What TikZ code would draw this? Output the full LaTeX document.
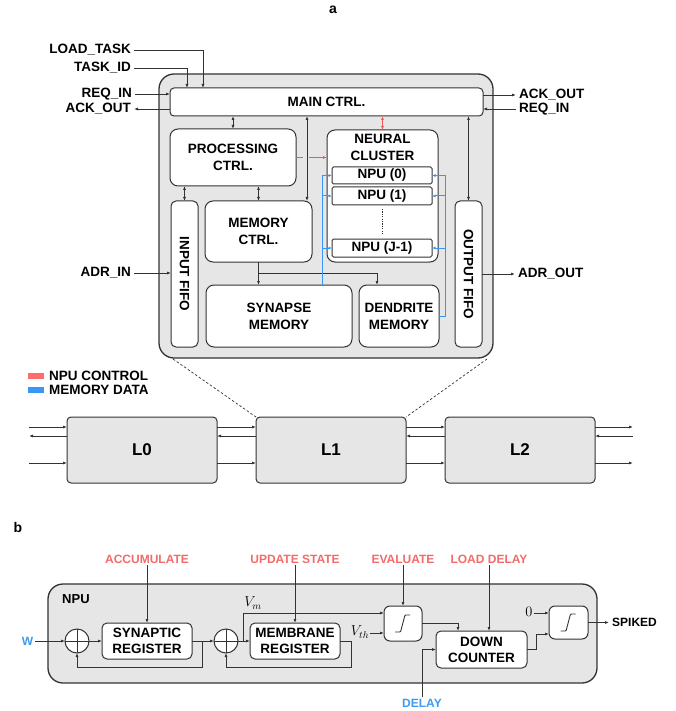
\documentclass[tikz,border=0pt]{standalone}
\usepackage[no-math]{fontspec}
\setmainfont{Liberation Sans}
\usetikzlibrary{arrows.meta,calc}

\definecolor{chipgrey}{HTML}{E6E6E6}
\definecolor{edge}{HTML}{333333}
\definecolor{npured}{HTML}{F25757}
\definecolor{legred}{HTML}{FF6B6B}
\definecolor{memblue}{HTML}{3A96F5}
\definecolor{ctrlred}{HTML}{F26B6B}
\definecolor{inblue}{HTML}{3D9BF2}

\newcommand\lblfont{\fontsize{13.5}{17}\selectfont\bfseries}
\newcommand\smlfont{\fontsize{12}{14}\selectfont\bfseries}
\newcommand\mfont{\fontsize{14}{16}\selectfont}
\newcommand\stepglyph[1]{\draw[edge, line width=0.9pt, rounded corners=0.8pt] ($(#1)+(-8,8.5)$) -- ($(#1)+(-2.5,8.5)$) -- ($(#1)+(2,-8.5)$) -- ($(#1)+(7,-8.5)$);}

\begin{document}
\begin{tikzpicture}[x=1pt,y=-1pt,
  box/.style={draw=edge, fill=white, line width=1pt, rounded corners=6pt, inner sep=0pt, outer sep=0pt, align=center, font=\lblfont},
  npubox/.style={box, rounded corners=1.5pt, minimum width=100pt},
  frame/.style={draw=edge, fill=chipgrey, line width=1.3pt, rounded corners=15pt, inner sep=0pt, outer sep=0pt},
  lbox/.style={draw=edge, fill=chipgrey, line width=1pt, rounded corners=4pt, minimum width=150pt, minimum height=66pt, font=\fontsize{17}{20}\selectfont\bfseries, inner sep=0pt, outer sep=0pt},
  conn/.style={draw=edge, line width=0.8pt},
  arr/.style={conn, -{Latex[length=4pt,width=3pt]}},
  darr/.style={conn, {Latex[length=4pt,width=3pt]}-{Latex[length=4pt,width=3pt]}},
  rarr/.style={draw=npured, line width=0.8pt, -{Latex[length=4pt,width=3pt]}},
  rdarr/.style={draw=npured, line width=0.8pt, {Latex[length=4pt,width=3pt]}-{Latex[length=4pt,width=3pt]}},
  bline/.style={draw=memblue, line width=1pt},
  barr/.style={draw=memblue, line width=1pt, -{Latex[length=3.5pt,width=3pt]}},
  txt/.style={font=\lblfont, inner sep=3pt},
  ctrllbl/.style={font=\smlfont, text=ctrlred, inner sep=2pt},
  zoomline/.style={draw=edge, line width=0.7pt, dash pattern=on 2.5pt off 2pt},
  sumnode/.style={circle, draw=edge, fill=white, line width=1pt, minimum size=24pt, inner sep=0pt, outer sep=0pt,
    path picture={\draw[edge, line width=0.8pt] (path picture bounding box.north) -- (path picture bounding box.south) (path picture bounding box.west) -- (path picture bounding box.east);}},
  reg/.style={box, rounded corners=5pt, minimum width=90pt, minimum height=36pt, font=\fontsize{13.5}{16}\selectfont\bfseries},
  stepbox/.style={box, rounded corners=6pt},
  panel/.style={font=\fontsize{14}{16}\selectfont\bfseries, inner sep=0pt}
]
\useasboundingbox (0,0) rectangle (675,711);

% ---------------- panel a ----------------
\node[panel] (pa) at (333,10) {a};

\node[frame, minimum width=334pt, minimum height=284pt] (chip) at (326,216) {};

\node[box, rounded corners=4pt, minimum width=313pt, minimum height=28pt] (main) at (326.5,102) {MAIN CTRL.};
\node[box, rounded corners=8pt, minimum width=126pt, minimum height=57pt] (proc) at (233,157.5) {PROCESSING\\CTRL.};
\node[box, rounded corners=8pt, minimum width=111pt, minimum height=132pt] (neural) at (382.5,196) {};
\node[font=\lblfont, align=center, inner sep=0pt] (neurallbl) at (382.5,147.5) {NEURAL\\CLUSTER};
\node[npubox, minimum height=17pt] (npu0) at (382,175.5) {NPU (0)};
\node[npubox, minimum height=18pt] (npu1) at (382,196) {NPU (1)};
\node[npubox, minimum height=18pt] (npuJ) at (382,248) {NPU (J-1)};
\node[box, rounded corners=8pt, minimum width=107pt, minimum height=61pt] (memctrl) at (258.5,231.5) {MEMORY\\CTRL.};
\node[box, rounded corners=5pt, minimum width=27pt, minimum height=146pt] (infifo) at (184.5,274) {};
\node[font=\lblfont, rotate=-90, inner sep=0pt] (infifolbl) at (infifo) {INPUT FIFO};
\node[box, rounded corners=5pt, minimum width=27pt, minimum height=146pt] (outfifo) at (468.5,274) {};
\node[font=\lblfont, rotate=-90, inner sep=0pt] (outfifolbl) at (outfifo) {OUTPUT FIFO};
\node[box, rounded corners=8pt, minimum width=146pt, minimum height=62pt] (synmem) at (279,316) {SYNAPSE\\MEMORY};
\node[box, rounded corners=8pt, minimum width=80pt, minimum height=62pt] (dendmem) at (399,316) {DENDRITE\\MEMORY};

% outer labels
\node[txt, anchor=east] (loadtask) at (134,50) {LOAD\_TASK};
\node[txt, anchor=east] (taskid) at (134,68) {TASK\_ID};
\node[txt, anchor=east] (reqinL) at (135,94) {REQ\_IN};
\node[txt, anchor=east] (ackoutL) at (134,109) {ACK\_OUT};
\node[txt, anchor=west] (ackoutR) at (516,95) {ACK\_OUT};
\node[txt, anchor=west] (reqinR) at (516,109) {REQ\_IN};
\node[txt, anchor=east] (adrin) at (134,273) {ADR\_IN};
\node[txt, anchor=west] (adrout) at (515,274) {ADR\_OUT};

\draw[arr] (loadtask.east) -| ($(main.north west)+(33,0)$);
\draw[arr] (taskid.east) -| ($(main.north west)+(17,0)$);
\draw[arr] (reqinL.east) -- (reqinL.east -| main.west);
\draw[arr] (ackoutL.east -| main.west) -- (ackoutL.east);
\draw[arr] (ackoutR.west -| main.east) -- (ackoutR.west);
\draw[arr] (reqinR.west) -- (reqinR.west -| main.east);
\draw[arr] (adrin.east) -- (adrin.east -| infifo.west);
\draw[arr] (adrout.west -| outfifo.east) -- (adrout.west);

% internal connectors
\draw[darr] (proc.north) -- (proc.north |- main.south);
\draw[rdarr] (neural.north) -- (neural.north |- main.south);
\coordinate (mctop) at ($(memctrl.north east)+(-5,0)$);
\draw[darr] (mctop |- main.south) -- (mctop);
\draw[darr] (outfifo.north |- main.south) -- (outfifo.north);
\draw[darr] (infifo.north) -- (infifo.north |- proc.south);
\draw[darr] (memctrl.north) -- (memctrl.north |- proc.south);
\draw[rarr, dash pattern=on 7pt off 6pt on 20pt] (proc.east) -- (proc.east -| neural.west);
\draw[arr] (memctrl.south) -- (memctrl.south |- synmem.north);
\draw[arr] (memctrl.south) -- ++(0,11) -| ($(dendmem.north west)+(18,0)$);
\draw[edge, line width=0.8pt, dash pattern=on 1.2pt off 1.2pt] ($(npu1.south)+(0,4)$) -- ($(npuJ.north)+(0,-4)$);

% memory data (blue)
\coordinate (bl) at ($(synmem.north west)+(116,0)$);
\draw[bline] (bl) -- (bl |- npu0.west);
\draw[barr] (bl |- npu0.west) -- (npu0.west);
\draw[barr] (bl |- npu1.west) -- (npu1.west);
\draw[barr] (bl |- npuJ.west) -- (npuJ.west);
\coordinate (br) at ($(dendmem.east)+(6,0)$);
\draw[bline] (dendmem.east) -- (br) -- (br |- npu0.east);
\draw[barr] (br |- npu0.east) -- (npu0.east);
\draw[barr] (br |- npu1.east) -- (npu1.east);
\draw[barr] (br |- npuJ.east) -- (npuJ.east);

% legend
\fill[legred] (28,373) rectangle (44,379);
\fill[memblue] (28,387) rectangle (44,393);
\node[txt, anchor=west, inner sep=2pt] (legr) at (47,376) {NPU CONTROL};
\node[txt, anchor=west, inner sep=2pt] (legb) at (47,390) {MEMORY DATA};

% layers
\node[lbox] (L0) at (142,450) {L0};
\node[lbox] (L1) at (331,450) {L1};
\node[lbox] (L2) at (520,450) {L2};
\draw[zoomline] ($(chip.south west)+(14,1)$) -- (L1.north west);
\draw[zoomline] ($(chip.south east)+(-6,1)$) -- (L1.north east);

\coordinate (la) at (29,427);
\coordinate (lb) at (29,436);
\coordinate (lc) at (29,463);
\coordinate (ra) at (633,427);
\coordinate (rb) at (633,436);
\coordinate (rc) at (633,463);
\draw[arr] (la) -- (la -| L0.west);
\draw[arr] (lb -| L0.west) -- (lb);
\draw[arr] (lc) -- (lc -| L0.west);
\draw[arr] (la -| L0.east) -- (la -| L1.west);
\draw[arr] (lb -| L1.west) -- (lb -| L0.east);
\draw[arr] (lc -| L0.east) -- (lc -| L1.west);
\draw[arr] (la -| L1.east) -- (la -| L2.west);
\draw[arr] (lb -| L2.west) -- (lb -| L1.east);
\draw[arr] (lc -| L1.east) -- (lc -| L2.west);
\draw[arr] (ra -| L2.east) -- (ra);
\draw[arr] (rb) -- (rb -| L2.east);
\draw[arr] (rc -| L2.east) -- (rc);

% ---------------- panel b ----------------
\node[panel] (pb) at (18,527) {b};

\node[frame, minimum width=549pt, minimum height=99pt] (npuframe) at (322.5,633.5) {};
\node[font=\fontsize{13}{15}\selectfont\bfseries, anchor=west, inner sep=2pt] (npulbl) at (60,599) {NPU};

\node[sumnode] (sum1) at (77,641) {};
\node[sumnode] (sum2) at (226,641) {};
\node[reg] (synreg) at (147,641) {SYNAPTIC\\REGISTER};
\node[reg] (memreg) at (295,641) {MEMBRANE\\REGISTER};
\node[stepbox, minimum width=38pt, minimum height=35pt] (f1) at (403,623.5) {};
\node[stepbox, minimum width=39pt, minimum height=33pt] (f2) at (568.5,622.5) {};
\stepglyph{f1}
\stepglyph{f2}
\node[box, rounded corners=5pt, minimum width=91pt, minimum height=37pt, font=\fontsize{13.5}{16}\selectfont\bfseries] (dc) at (481.5,649.5) {DOWN\\COUNTER};

\node[ctrllbl] (acc) at (147,559) {ACCUMULATE};
\node[ctrllbl] (upd) at (295,559) {UPDATE STATE};
\node[ctrllbl] (eval) at (403,559) {EVALUATE};
\node[ctrllbl] (ld) at (489,559) {LOAD DELAY};
\node[font=\smlfont, text=inblue, inner sep=2pt] (delay) at (422,703) {DELAY};
\node[font=\smlfont, text=inblue, inner sep=2pt] (w) at (27.5,641) {W};
\node[font=\smlfont, anchor=west, inner sep=3pt] (spiked) at (609,622) {SPIKED};
\node[font=\mfont, inner sep=1pt] (vm) at (253,603) {$V_m$};
\node[font=\mfont, inner sep=1pt] (vth) at (360,632) {$V_{th}$};
\node[font=\mfont, inner sep=1pt] (zero) at (529,612) {$0$};

\draw[arr] (acc.south) -- (synreg.north);
\draw[arr] (upd.south) -- (memreg.north);
\draw[arr] (eval.south) -- (f1.north);
\draw[arr] (ld.south) -- (ld.south |- dc.north);
\draw[arr] (w.east) -- (sum1.west);
\draw[arr] (sum1.east) -- (synreg.west);
\draw[arr] (synreg.east) -- (sum2.west);
\draw[arr] (synreg.east) -- ++(10,0) -- ++(0,26) -| (sum1.south);
\draw[arr] (sum2.east) -- (memreg.west);
\draw[arr] (memreg.east) -- ++(11,0) -- ++(0,26) -| (sum2.south);
\coordinate (fvm) at ($(f1.north west)+(0,7)$);
\coordinate (fvth) at ($(f1.south west)+(0,-8)$);
\draw[arr] ($(sum2.east)+(5,0)$) |- (fvm);
\draw[arr] (vth.east |- fvth) -- (fvth);
\draw[arr] (f1.east) -| ($(dc.north west)+(22,0)$);
\draw[arr] (delay.north) |- (dc.west);
\coordinate (fdc) at ($(f2.south west)+(0,-5)$);
\draw[arr] (dc.east) -- ++(9,0) |- (fdc);
\coordinate (fzero) at ($(f2.north west)+(0,7)$);
\draw[arr] (zero.east |- fzero) -- (fzero);
\draw[arr] (f2.east) -- (spiked.west |- f2.east);
\end{tikzpicture}
\end{document}
